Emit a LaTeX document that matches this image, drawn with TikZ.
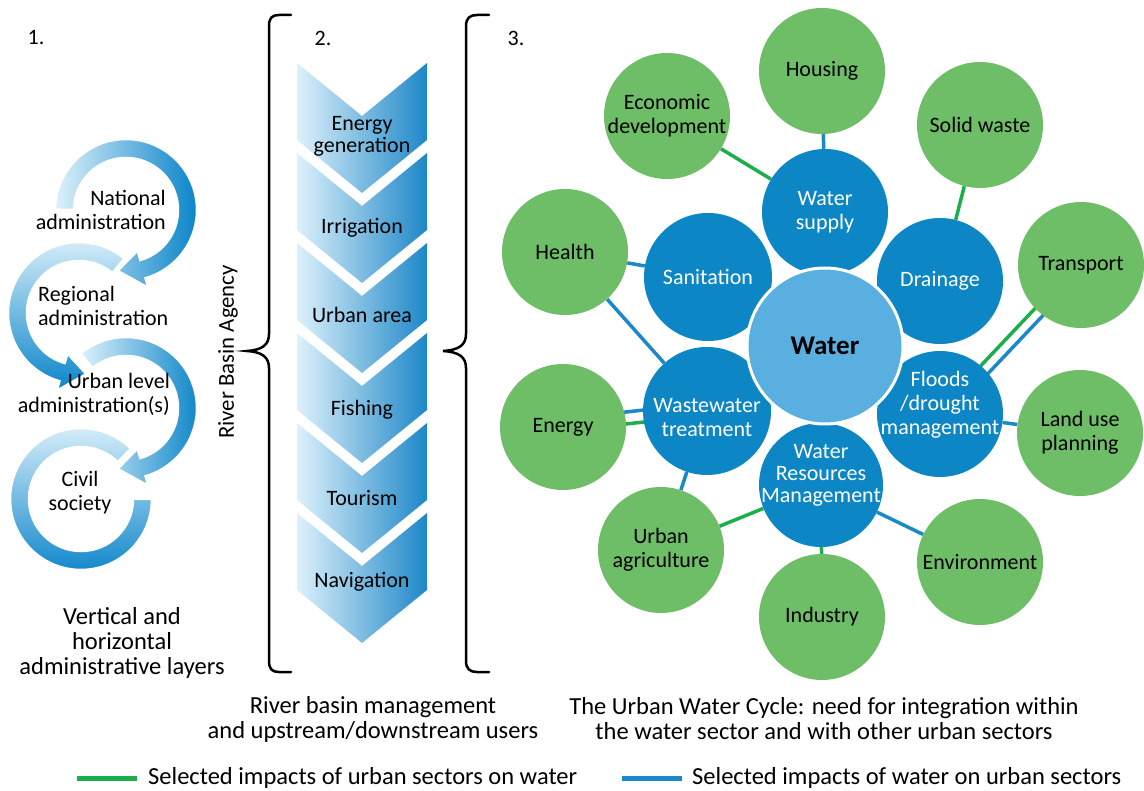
\documentclass[tikz,border=0pt]{standalone}
\usepackage{fontspec}
\setmainfont{Carlito}
\pgfdeclarelayer{bg}
\pgfsetlayers{bg,main}
\definecolor{cgreen}{HTML}{6DBE67}
\definecolor{cblue}{HTML}{0D86C5}
\definecolor{cwater}{HTML}{5AAFE1}
\definecolor{lgreen}{HTML}{1BAF4B}
\definecolor{lblue}{HTML}{1B88C9}
\definecolor{glight}{HTML}{DDF1FB}
\definecolor{gdark}{HTML}{0A84C9}
\definecolor{cdark}{HTML}{1E87C8}
\begin{document}
\begin{tikzpicture}[x=1pt,y=1pt,
  every node/.style={font=\fontsize{22}{24}\selectfont, inner sep=0pt},
  gcirc/.style={circle, fill=cgreen, minimum size=126pt, align=center},
  bcirc/.style={circle, fill=cblue, minimum size=126pt, align=center, text=white},
  btext/.style={align=center, text=white},
  gline/.style={draw=lgreen, line width=3.5pt},
  bline/.style={draw=lblue, line width=3.5pt},
  chev/.style={left color=glight, right color=cdark},
  ringh/.style={left color=glight, right color=gdark, draw=white, line width=2.5pt},
  ringv/.style={top color=glight, bottom color=gdark, draw=white, line width=2.5pt},
  lbl/.style={align=center, font=\fontsize{24.5}{25}\selectfont},
  bracketline/.style={draw=black, line width=2.5pt, line cap=round}
]
\useasboundingbox (0,0) rectangle (1144,-791);

% numbers
\node (n1) at (36,-38) {1.};
\node (n2) at (323,-38) {2.};
\node (n3) at (516,-38) {3.};

% ---- rings (left) ----
\begin{scope}[shift={(81,-499)}]
\path[ringv] (45:71) arc[start angle=45,end angle=360,radius=71] -- (0:52)
  arc[start angle=360,end angle=45,radius=52] -- cycle;
\end{scope}
\begin{scope}[shift={(126,-408)}]
\path[ringh] (130:71) arc[start angle=130,end angle=-74,radius=71] -- (-74:81) -- (-98:61.5)
  -- (-74:42) -- (-74:52) arc[start angle=-74,end angle=130,radius=52] -- cycle;
\end{scope}
\begin{scope}[shift={(79,-313)}]
\path[ringv] (50:71) arc[start angle=50,end angle=254,radius=71] -- (254:81) -- (277:61.5)
  -- (254:42) -- (254:52) arc[start angle=254,end angle=50,radius=52] -- cycle;
\end{scope}
\begin{scope}[shift={(126,-210)}]
\path[ringh] (180:71) arc[start angle=180,end angle=-74,radius=71] -- (-74:81) -- (-98:61.5)
  -- (-74:42) -- (-74:52) arc[start angle=-74,end angle=180,radius=52] -- cycle;
\end{scope}

\node[align=right, anchor=east] (nat) at (166,-210) {National\\administration};
\node[align=left, anchor=west] (reg) at (38,-306) {Regional\\administration};
\node[align=right, anchor=east] (urb) at (170,-394) {Urban level\\administration(s)};
\node[align=center] (civ) at (80,-493) {Civil\\society};
\node[lbl] (cap1) at (122,-643) {Vertical and\\horizontal\\administrative layers};

% ---- River Basin Agency ----
\node[rotate=90, font=\fontsize{22.8}{24}\selectfont] (rba) at (228,-352) {River Basin Agency};

% ---- braces ----
\draw[bracketline] (291,-15) -- (279,-15) .. controls (272,-15) and (269,-18) .. (269,-26)
  -- (269,-334) .. controls (269,-345) and (262,-350) .. (247,-351)
  .. controls (262,-352) and (269,-357) .. (269,-368)
  -- (269,-661) .. controls (269,-669) and (272,-672) .. (279,-672) -- (291,-672);
\draw[bracketline] (489,-15) -- (477,-15) .. controls (470,-15) and (466,-18) .. (466,-26)
  -- (466,-334) .. controls (466,-345) and (459,-350) .. (443,-351)
  .. controls (459,-352) and (466,-357) .. (466,-368)
  -- (466,-661) .. controls (466,-669) and (470,-672) .. (477,-672) -- (489,-672);

% ---- chevrons ----
\foreach \y in {63,153,243,333,423,513}{
  \path[chev] (297,-\y) -- (362,-\y-53) -- (427,-\y) -- (427,-\y-77) -- (362,-\y-130) -- (297,-\y-77) -- cycle;
}
\begin{scope}[every node/.style={font=\fontsize{22}{22}\selectfont, inner sep=0pt, align=center}]
\node (c1) at (362,-136) {Energy\\generation};
\node (c2) at (362,-228) {Irrigation};
\node (c3) at (362,-315) {Urban area};
\node (c4) at (362,-410) {Fishing};
\node (c5) at (362,-498) {Tourism};
\node (c6) at (362,-582) {Navigation};
\end{scope}
\node[lbl] (cap2) at (373,-719) {River basin management\\and upstream/downstream users};

% ---- water cycle ----
\node[gcirc] (hous) at (822,-71) {Housing};
\node[gcirc] (econ) at (667,-116) {Economic\\development};
\node[gcirc] (solid) at (980,-125) {Solid waste};
\node[gcirc] (health) at (565,-252) {Health};
\node[gcirc] (trans) at (1081,-265) {Transport};
\node[gcirc] (energy) at (563,-427) {Energy};
\node[gcirc] (land) at (1080,-433) {Land use\\planning};
\node[gcirc] (uagr) at (661,-550) {Urban\\agriculture};
\node[gcirc] (env) at (980,-562) {Environment};
\node[gcirc] (ind) at (822,-617) {Industry};

\node[bcirc] (wsup) at (825,-212) {Water\\supply};
\node[bcirc, minimum size=128pt] (san) at (708,-277) {Sanitation};
\node[bcirc] (drain) at (940,-281) {Drainage};
\node[bcirc] (flood) at (940,-414) {};
\node[bcirc, minimum size=128pt] (wwt) at (707,-411) {};
\node[bcirc, minimum size=124pt] (wrm) at (821,-485) {};
\node[circle, fill=cwater, draw=white, line width=3pt, minimum size=156pt,
  font=\fontsize{27}{30}\selectfont\bfseries] (water) at (825,-346) {Water};
\node[btext] (tflood) at (940,-405) {Floods\\/drought\\management};
\node[btext] (twwt) at (707,-418) {Wastewater\\treatment};
\node[btext, font=\fontsize{22}{22}\selectfont] (twrm) at (821,-475) {Water\\Resources\\Management};

\begin{pgfonlayer}{bg}
\draw[gline] (econ) -- (wsup);
\draw[bline] (hous) -- (wsup);
\draw[gline] (solid) -- (drain);
\draw[bline] (health) -- (san);
\draw[bline] (health) -- (wwt);
\draw[gline, transform canvas={xshift=-2.5pt, yshift=2.5pt}] (flood.center) -- (trans.center);
\draw[bline, transform canvas={xshift=5pt, yshift=-5pt}] (flood.center) -- (trans.center);
\draw[bline] (land) -- (flood);
\draw[bline, transform canvas={yshift=8pt}] (energy.center) -- (wwt.center);
\draw[gline, transform canvas={yshift=-4pt}] (energy.center) -- (wwt.center);
\draw[bline] (wwt) -- (uagr);
\draw[gline] (uagr) -- (wrm);
\draw[gline] (wrm) -- (ind);
\draw[bline] (wrm) -- (env);
\end{pgfonlayer}

\node[lbl] (cap3) at (824,-719) {The Urban Water Cycle: need for integration within\\the water sector and with other urban sectors};

% ---- legend ----
\coordinate (lg1) at (77,-778);
\coordinate (lg2) at (137,-778);
\coordinate (lb1) at (622,-778);
\coordinate (lb2) at (682,-778);
\draw[draw=lgreen, line width=5pt] (lg1) -- (lg2);
\draw[draw=lblue, line width=5pt] (lb1) -- (lb2);
\node[anchor=west, font=\fontsize{24.5}{25}\selectfont] (lgt) at (148,-778) {Selected impacts of urban sectors on water};
\node[anchor=west, font=\fontsize{24.5}{25}\selectfont] (lbt) at (692,-778) {Selected impacts of water on urban sectors};
\end{tikzpicture}
\end{document}
